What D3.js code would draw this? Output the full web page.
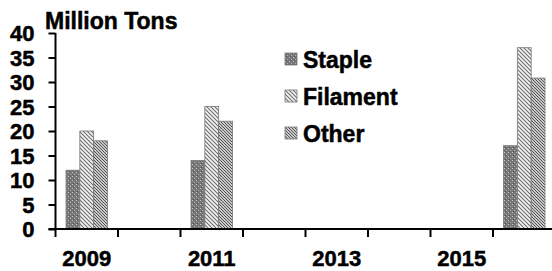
<!DOCTYPE html>
<html>
<head>
<meta charset="utf-8">
<script src="https://cdn.jsdelivr.net/npm/d3@7"></script>
<style>
  body { margin: 0; background: #fff; }
  svg text { font-family: "Liberation Sans", Arial, sans-serif; font-weight: bold; fill: #000; stroke: #000; stroke-width: 0.5px; }
</style>
</head>
<body>
<svg></svg>
<script>
var years = [2009, 2010, 2011, 2012, 2013, 2014, 2015, 2016];
var yearLabels = [2009, 2011, 2013, 2015];
var seriesNames = ['Staple', 'Filament', 'Other'];
var staple = [12, null, 14, null, null, null, null, 17];
var filament = [20, null, 25, null, null, null, null, 37];
var other = [18, null, 22, null, null, null, null, 30.8];
var yTicks = [0, 5, 10, 15, 20, 25, 30, 35, 40];

var width = 552, height = 271;
var x0 = 55.5, yTop = 33, yZero = 229;

var svg = d3.select('svg')
    .attr('width', width)
    .attr('height', height);

// patronen voor de bars
var defs = svg.append('defs');

var pStaple = defs.append('pattern')
    .attr('id', 'p-staple')
    .attr('patternUnits', 'userSpaceOnUse')
    .attr('width', 4).attr('height', 4);
pStaple.append('rect').attr('width', 4).attr('height', 4).attr('fill', '#777');
pStaple.append('rect').attr('x', 0).attr('y', 0).attr('width', 1).attr('height', 1).attr('fill', '#c4c4c4');
pStaple.append('rect').attr('x', 2).attr('y', 2).attr('width', 1).attr('height', 1).attr('fill', '#b0b0b0');
pStaple.append('rect').attr('x', 1).attr('y', 3).attr('width', 1).attr('height', 1).attr('fill', '#555');

var pFil = defs.append('pattern')
    .attr('id', 'p-filament')
    .attr('patternUnits', 'userSpaceOnUse')
    .attr('width', 4).attr('height', 4);
pFil.append('rect').attr('width', 4).attr('height', 4).attr('fill', '#f4f4f4');
pFil.append('path').attr('d', 'M-1,-1L5,5M-1,3L1,5M3,-1L5,1')
    .attr('stroke', '#6e6e6e').attr('stroke-width', 1.1);

var pOther = defs.append('pattern')
    .attr('id', 'p-other')
    .attr('patternUnits', 'userSpaceOnUse')
    .attr('width', 3).attr('height', 3);
pOther.append('rect').attr('width', 3).attr('height', 3).attr('fill', '#c8c8c8');
pOther.append('path').attr('d', 'M-1,-1L4,4M-1,2L1,4M2,-1L4,1')
    .attr('stroke', '#555').attr('stroke-width', 1);

var fills = {Staple: 'url(#p-staple)', Filament: 'url(#p-filament)', Other: 'url(#p-other)'};

// schalen
var x = d3.scaleBand().domain(years).range([x0, x0 + 62.5 * years.length]);
var xs = d3.scaleBand().domain(seriesNames).range([0, x.bandwidth()]).paddingOuter(0.76);
var y = d3.scaleLinear().domain([0, 40]).range([yZero, yTop]);

// rijen maken voor de bars
var rows = [];
years.forEach(function(yr, i) {
  var vals = [staple[i], filament[i], other[i]];
  seriesNames.forEach(function(s, j) {
    if (vals[j] != null) rows.push({year: yr, series: s, value: vals[j]});
  });
});

svg.append('g')
  .selectAll('rect')
  .data(rows)
  .enter()
  .append('rect')
    .attr('x', function(d) { return x(d.year) + xs(d.series); })
    .attr('y', function(d) { return y(d.value); })
    .attr('width', xs.bandwidth())
    .attr('height', function(d) { return yZero - y(d.value); })
    .attr('fill', function(d) { return fills[d.series]; })
    .attr('stroke', '#777')
    .attr('stroke-width', 0.8);

// y as
var yAxis = svg.append('g')
    .attr('transform', 'translate(' + x0 + ',0)')
    .call(d3.axisLeft(y).tickValues(yTicks).tickSize(7).tickPadding(14));
yAxis.select('.domain').attr('stroke-width', 2).attr('d', 'M0,' + yTop + 'V' + yZero);
yAxis.selectAll('.tick line').attr('stroke-width', 2);
yAxis.selectAll('.tick text').style('font-size', '22px').attr('dy', '0.36em');

// x as, streepjes tussen de jaren
var xAxisG = svg.append('g');
xAxisG.append('line')
    .attr('x1', x0 - 7).attr('x2', width)
    .attr('y1', yZero).attr('y2', yZero)
    .attr('stroke', '#000').attr('stroke-width', 2);
xAxisG.selectAll('.xtick')
  .data(years)
  .enter()
  .append('line')
    .attr('x1', function(d) { return x(d); })
    .attr('x2', function(d) { return x(d); })
    .attr('y1', yZero).attr('y2', yZero + 8)
    .attr('stroke', '#000').attr('stroke-width', 2);
xAxisG.selectAll('.xlabel')
  .data(yearLabels)
  .enter()
  .append('text')
    .attr('x', function(d) { return x(d) + x.bandwidth() / 2; })
    .attr('y', 266)
    .attr('text-anchor', 'middle')
    .style('font-size', '22px')
    .text(function(d) { return d; });

// titel
svg.append('text')
    .attr('x', 45)
    .attr('y', 29)
    .style('font-size', '23px')
    .text('Million Tons');

// legenda
var legend = svg.append('g')
  .selectAll('g')
  .data(seriesNames)
  .enter()
  .append('g')
    .attr('transform', function(d, i) { return 'translate(285,' + (53 + i * 37) + ')'; });
legend.append('rect')
    .attr('width', 12).attr('height', 12)
    .attr('fill', function(d) { return fills[d]; })
    .attr('stroke', '#777').attr('stroke-width', 0.8);
legend.append('text')
    .attr('x', 18)
    .attr('y', 15)
    .style('font-size', '23px')
    .text(function(d) { return d; });
</script>
</body>
</html>
